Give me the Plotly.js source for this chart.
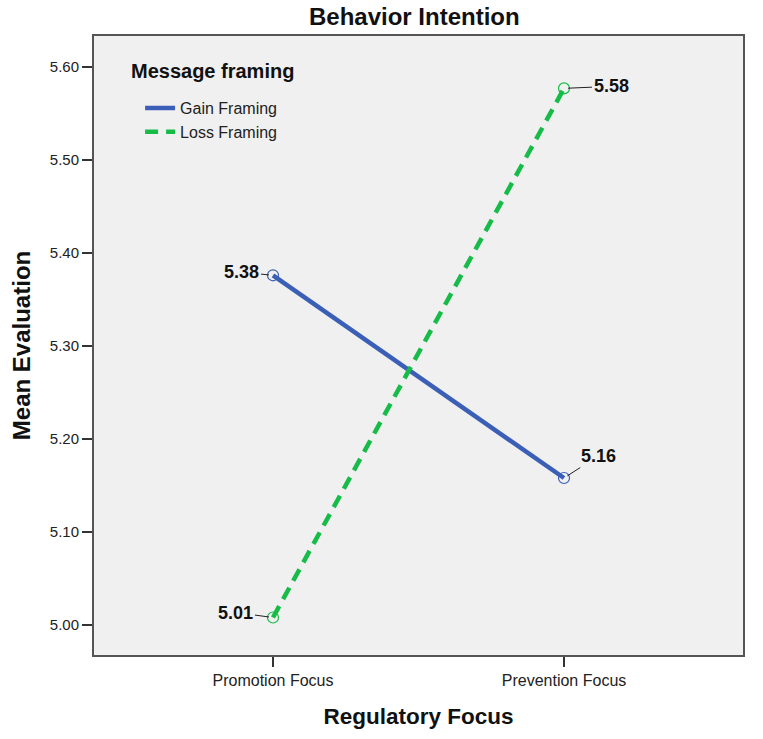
<!DOCTYPE html>
<html>
<head>
<meta charset="utf-8">
<script src="https://cdn.plot.ly/plotly-3.0.1.min.js"></script>
<style>html,body{margin:0;padding:0;background:#fff;}#chart{width:763px;height:739px;}</style>
</head>
<body>
<div id="chart"></div>
<script>
const categories = ["Promotion Focus", "Prevention Focus"];
const gainValues = [5.376, 5.158];
const lossValues = [5.008, 5.577];
const seriesNames = ["Gain Framing", "Loss Framing"];
const legendTitle = "Message framing";
const yTickVals = [5.00, 5.10, 5.20, 5.30, 5.40, 5.50, 5.60];

const FONT = "Liberation Sans, Arial, sans-serif";
const blue = "#3b5fb6";
const green = "#16bb48";

const lineTraces = [
  {
    x: categories, y: gainValues, name: seriesNames[0], type: "scatter", mode: "lines",
    legendgroup: "g", line: {color: blue, width: 4.5, dash: "solid"}
  },
  {
    x: categories, y: lossValues, name: seriesNames[1], type: "scatter", mode: "lines",
    legendgroup: "l", line: {color: green, width: 4.5, dash: "13px,8px"}
  }
];
const markerTraces = [
  {
    x: categories, y: gainValues, name: seriesNames[0], type: "scatter", mode: "markers",
    showlegend: false, legendgroup: "g",
    marker: {symbol: "circle-open", size: 11, color: blue, line: {width: 1.2, color: blue}}
  },
  {
    x: categories, y: lossValues, name: seriesNames[1], type: "scatter", mode: "markers",
    showlegend: false, legendgroup: "l",
    marker: {symbol: "circle-open", size: 11, color: green, line: {width: 1.2, color: green}}
  }
];

// label offsets (pixel) for the value call-outs
const offsets = [
  [[-31, -3], [34, -22]],
  [[-37, -5], [47, -2]]
];
const annotations = [];
[gainValues, lossValues].forEach((vals, s) => {
  vals.forEach((v, i) => {
    annotations.push({
      x: categories[i], y: v, xref: "x", yref: "y",
      text: v.toFixed(2), showarrow: true, arrowhead: 0, arrowwidth: 1, arrowcolor: "#222",
      ax: offsets[s][i][0], ay: offsets[s][i][1], standoff: 4,
      font: {family: FONT, size: 18, color: "#111", weight: "bold"}
    });
  });
});
annotations.push({
  x: 0.054, y: 0.943, xref: "paper", yref: "paper", xanchor: "left", yanchor: "middle",
  text: "<b>" + legendTitle + "</b>", showarrow: false,
  font: {family: FONT, size: 20, color: "#111"}
});

const layout = {
  width: 763, height: 739,
  margin: {l: 94, r: 20, t: 36, b: 84},
  paper_bgcolor: "#ffffff",
  plot_bgcolor: "#f0f0f0",
  title: {text: "<b>Behavior Intention</b>", font: {family: FONT, size: 24, color: "#111"}, x: 0.543, xanchor: "center", y: 0.977, yanchor: "middle"},
  xaxis: {
    type: "category", range: [-0.615, 1.615],
    showgrid: false, zeroline: false,
    showline: true, linecolor: "#555", linewidth: 2, mirror: true,
    ticks: "outside", ticklen: 10, tickwidth: 1.5, tickcolor: "#333",
    tickfont: {family: FONT, size: 16, color: "#222"},
    title: {text: "<b>Regulatory Focus</b>", font: {family: FONT, size: 22.5, color: "#111"}, standoff: 20}
  },
  yaxis: {
    range: [4.9677, 5.6333], tickvals: yTickVals, ticktext: yTickVals.map(v => v.toFixed(2)),
    showgrid: false, zeroline: false,
    showline: true, linecolor: "#555", linewidth: 2, mirror: true,
    ticks: "outside", ticklen: 10, tickwidth: 1.5, tickcolor: "#333",
    ticklabelstandoff: 0,
    tickfont: {family: FONT, size: 15, color: "#222"},
    title: {text: "<b>Mean Evaluation</b>", font: {family: FONT, size: 24, color: "#111"}, standoff: 12}
  },
  showlegend: true,
  legend: {
    x: 0.071, y: 0.911, xanchor: "left", yanchor: "top",
    bgcolor: "rgba(0,0,0,0)", borderwidth: 0,
    font: {family: FONT, size: 16, color: "#222"},
    itemwidth: 30, tracegroupgap: 0
  },
  annotations: annotations
};

Plotly.newPlot("chart", lineTraces.concat(markerTraces), layout, {displayModeBar: false});
</script>
</body>
</html>
